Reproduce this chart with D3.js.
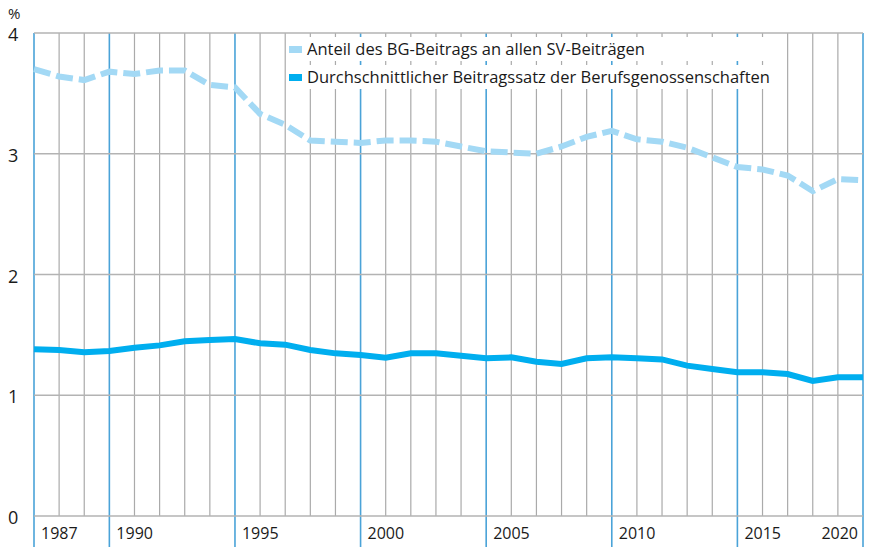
<!DOCTYPE html>
<html>
<head>
<meta charset="utf-8">
<script src="https://cdn.jsdelivr.net/npm/d3@7"></script>
<style>
  body { margin: 0; background: #fff; }
  text { font-family: "Open Sans", "Noto Sans", sans-serif; fill: #1a1a1a; }
</style>
</head>
<body>
<div id="chart"></div>
<script>
// Years 1987..2020
const years = d3.range(1987, 2021);
// Anteil des BG-Beitrags an allen SV-Beiträgen (%)
const anteil = [3.70, 3.64, 3.61, 3.68, 3.66, 3.69, 3.69, 3.57, 3.55, 3.33, 3.24, 3.11,
  3.10, 3.09, 3.11, 3.11, 3.10, 3.06, 3.02, 3.01, 3.00, 3.06, 3.14, 3.19, 3.12, 3.10,
  3.05, 2.97, 2.89, 2.87, 2.82, 2.69, 2.79, 2.78];
// Durchschnittlicher Beitragssatz der Berufsgenossenschaften (%)
const beitragssatz = [1.38, 1.375, 1.356, 1.366, 1.394, 1.413, 1.447, 1.458, 1.466, 1.43,
  1.419, 1.375, 1.347, 1.333, 1.311, 1.347, 1.347, 1.328, 1.306, 1.314, 1.278, 1.259,
  1.306, 1.314, 1.306, 1.297, 1.245, 1.217, 1.19, 1.19, 1.176, 1.118, 1.149, 1.149];
const yTicks = [0, 1, 2, 3, 4];
const labelYears = [1987, 1990, 1995, 2000, 2005, 2010, 2015, 2020];
const majorYears = [1987, 1990, 1995, 2000, 2005, 2010, 2015, 2020];
const legendLabels = ["Anteil des BG-Beitrags an allen SV-Beiträgen",
  "Durchschnittlicher Beitragssatz der Berufsgenossenschaften"];

const seriesA = years.map((yr, i) => ({ year: yr, v: anteil[i] }));
const seriesB = years.map((yr, i) => ({ year: yr, v: beitragssatz[i] }));

const W = 869, H = 547;
const margin = { top: 33, right: 6, bottom: 31, left: 34 };

const svg = d3.select("#chart").append("svg")
  .attr("width", W).attr("height", H);

const x = d3.scaleLinear().domain([1987, 2020]).range([margin.left, W - margin.right]);
const y = d3.scaleLinear().domain([0, 4]).range([H - margin.bottom, margin.top]);

// vertical gridlines
svg.append("g").selectAll("line")
  .data(years)
  .join("line")
  .attr("x1", d => x(d)).attr("x2", d => x(d))
  .attr("y1", y(4))
  .attr("y2", d => majorYears.includes(d) ? H : y(0))
  .attr("stroke", d => majorYears.includes(d) ? "#4aa3d8" : "#aaa")
  .attr("stroke-width", d => majorYears.includes(d) ? 1.6 : 1.2);

// horizontal gridlines
svg.append("g").selectAll("line")
  .data(yTicks)
  .join("line")
  .attr("x1", x(1987)).attr("x2", x(2020))
  .attr("y1", d => y(d)).attr("y2", d => y(d))
  .attr("stroke", "#b3b3b3")
  .attr("stroke-width", 1.5);

// y labels
svg.append("g").selectAll("text")
  .data(yTicks)
  .join("text")
  .attr("x", 8)
  .attr("y", d => y(d) + 8)
  .style("font-size", "18px")
  .text(d => d);

svg.append("text")
  .attr("x", 8).attr("y", 19)
  .style("font-size", "15px")
  .text("%");

// x labels
svg.append("g").selectAll("text")
  .data(labelYears)
  .join("text")
  .attr("x", d => d === 2020 ? x(d) - 5 : x(d) + 7)
  .attr("y", H - 8)
  .attr("text-anchor", d => d === 2020 ? "end" : "start")
  .style("font-size", "16px")
  .text(d => d);

// lines
const line = d3.line().x(d => x(d.year)).y(d => y(d.v));

svg.append("path")
  .datum(seriesA)
  .attr("fill", "none")
  .attr("stroke", "#a3d9f5")
  .attr("stroke-width", 6)
  .attr("stroke-dasharray", "17,6")
  .attr("d", line);

svg.append("path")
  .datum(seriesB)
  .attr("fill", "none")
  .attr("stroke", "#00aeef")
  .attr("stroke-width", 6)
  .attr("d", line);

// legend
const legendColors = ["#a3d9f5", "#00aeef"];
const legend = svg.append("g").attr("transform", "translate(288, 37)");
legend.selectAll("rect.bg")
  .data(legendLabels)
  .join("rect")
  .attr("class", "bg")
  .attr("x", 0).attr("y", (d, i) => i * 28)
  .attr("width", 497).attr("height", 24)
  .attr("fill", "#fff");
legend.selectAll("rect.sw")
  .data(legendLabels)
  .join("rect")
  .attr("class", "sw")
  .attr("x", 1).attr("y", (d, i) => i * 28 + 9)
  .attr("width", 13).attr("height", 7)
  .attr("fill", (d, i) => legendColors[i]);
legend.selectAll("text")
  .data(legendLabels)
  .join("text")
  .attr("x", 19).attr("y", (d, i) => i * 28 + 18)
  .style("font-size", "16.5px")
  .text(d => d);
</script>
</body>
</html>
